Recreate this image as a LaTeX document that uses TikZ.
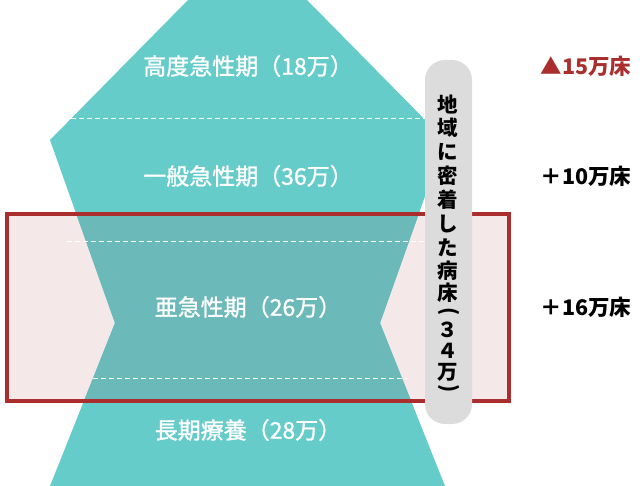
\documentclass[tikz,border=0pt]{standalone}
\usepackage{fontspec}
\setmainfont{Noto Sans CJK JP}
\newfontfamily\jpmedium{Noto Sans CJK JP}[FakeBold=1.2]
\usepackage{tikz}
\usetikzlibrary{positioning}
\usepackage{xcolor}

\definecolor{tealbed}{HTML}{66CCCA}
\definecolor{tealdark}{HTML}{6CB9B9}
\definecolor{pinkbox}{HTML}{F5E8E9}
\definecolor{redbox}{HTML}{AA2E2E}
\definecolor{pillgray}{HTML}{DCDCDC}

\tikzset{
	stage/.style={text=white, font=\jpmedium\fontsize{23}{23}\selectfont},
	change/.style={anchor=east, font=\bfseries\fontsize{21.5}{21.5}\selectfont},
	vchar/.style={inner sep=0pt, font=\bfseries\fontsize{20.5}{20.5}\selectfont},
	divider/.style={white, thin, dash pattern=on 5pt off 3pt}
}

\begin{document}
\begin{tikzpicture}[x=1pt,y=-1pt]
				\useasboundingbox (0,0) rectangle (640,486);
				% box behind the beds
				\fill[pinkbox] (7,214) rectangle (509,401);
				\fill[tealbed] (188,0) -- (307,0) -- (445,140) -- (380,323) -- (445,486) -- (50,486) -- (115,323) -- (50,140) -- cycle;
				\begin{scope}
					\clip (7,214) rectangle (509,401);
					\fill[tealdark] (188,0) -- (307,0) -- (445,140) -- (380,323) -- (445,486) -- (50,486) -- (115,323) -- (50,140) -- cycle;
				\end{scope}
				\draw[divider] (71,118) -- (425,118);
				\draw[divider] (67,241) -- (425,241);
				\draw[divider] (93,378) -- (408,378);
				\draw[redbox, line width=4pt] (7,214) rectangle (509,401);
				\fill[pillgray, rounded corners=20pt] (425,60) rectangle (472,424);
				% labels
				\node[stage] (high) at (248,66) {高度急性期（18万）};
				\node[stage] (acute) at (248,176) {一般急性期（36万）};
				\node[stage] (subacute) at (248,307) {亜急性期（26万）};
				\node[stage] (longterm) at (248,430) {長期療養（28万）};
				\node[change, text=redbox] (minus) at (635,66) {▲15万床};
				\node[change] (plusA) at (635,176) {＋10万床};
				\node[change] (plusB) at (635,307) {＋16万床};
				\foreach \c/\y [count=\i] in {地/105, 域/128, に/152, 密/176, 着/200, し/224, た/248, 病/271, 床/293, ３/330, ４/351, 万/372}
					\node[vchar] (v\i) at (448,\y) {\c};
				\node[vchar] (vopen) at (449,312) {\rotatebox{-90}{(}};
				\node[vchar] (vclose) at (449,389) {\rotatebox{-90}{)}};
\end{tikzpicture}
\end{document}
